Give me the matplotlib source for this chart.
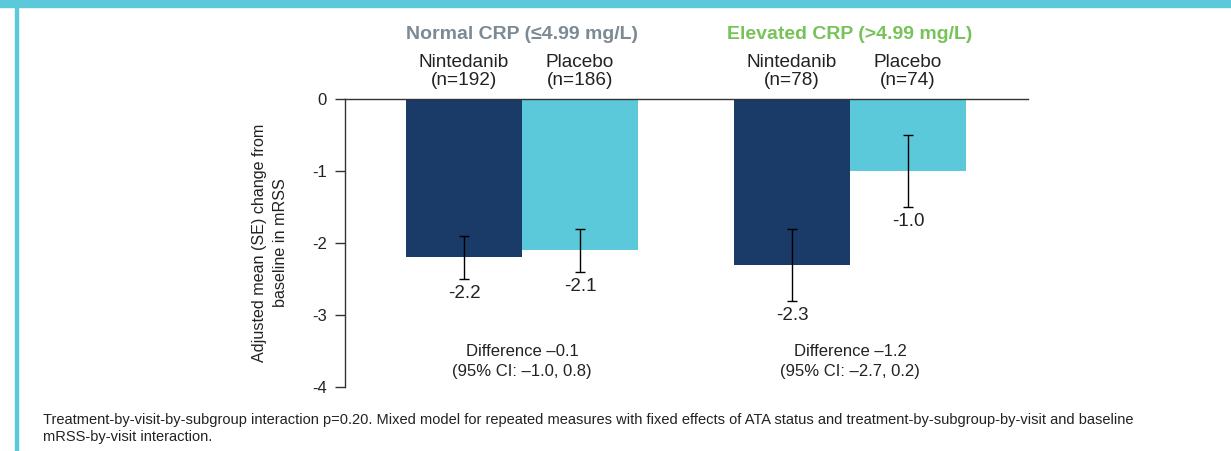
import matplotlib
matplotlib.use("Agg")
import matplotlib.pyplot as plt
from matplotlib.patches import Rectangle

plt.rcParams['font.family'] = ['Liberation Sans', 'DejaVu Sans']

# ---- data ----
groups = ["Normal CRP (\u22644.99 mg/L)", "Elevated CRP (>4.99 mg/L)"]
treatments = ["Nintedanib", "Placebo"]
n_values = [[192, 186], [78, 74]]
means = [[-2.2, -2.1], [-2.3, -1.0]]
se = [[0.3, 0.3], [0.5, 0.5]]
differences = ["Difference \u20130.1\n(95% CI: \u20131.0, 0.8)",
               "Difference \u20131.2\n(95% CI: \u20132.7, 0.2)"]
yticks = [0, -1, -2, -3, -4]
ylabel = "Adjusted mean (SE) change from\nbaseline in mRSS"
footnote = ("Treatment-by-visit-by-subgroup interaction p=0.20. Mixed model for repeated measures with fixed effects "
            "of ATA status and treatment-by-subgroup-by-visit and baseline\nmRSS-by-visit interaction.")

# ---- styles ----
bar_colors = ["#1a3a68", "#5bc9da"]
header_colors = ["#7b8a94", "#78c25a"]
text_color = "#222222"

W, H = 1231, 451
fig = plt.figure(figsize=(W / 100, H / 100), dpi=100)

# frame decorations
fig.patches.append(Rectangle((0, 1 - 7 / H), 1, 7 / H, transform=fig.transFigure,
                             color="#5bc9da", zorder=0))
fig.patches.append(Rectangle((15 / W, 0), 2.5 / W, 1, transform=fig.transFigure,
                             color="#5bc9da", zorder=0))

ax_left, ax_right, ax_top, ax_bot = 345, 1028, 99, 387
ax = fig.add_axes([ax_left / W, 1 - ax_bot / H, (ax_right - ax_left) / W, (ax_bot - ax_top) / H])

bar_w = 1.0
group_centers = [0.0, 328 / 116]
for gi, gc in enumerate(group_centers):
    for ti in range(2):
        x = gc + (ti - 0.5) * bar_w
        m = means[gi][ti]
        s = se[gi][ti]
        ax.bar(x, m, width=bar_w, color=bar_colors[ti], zorder=1)
        ax.errorbar(x, m, yerr=s, fmt='none', ecolor='black', elinewidth=1.0,
                    capsize=3.3, capthick=1.0, zorder=3)
        ax.annotate(f"{m:.1f}", xy=(x, m - s), xytext=(0, -10.5), textcoords='offset points',
                    ha='center', va='center', fontsize=13.5, color=text_color)
        # column headers
        ax.annotate(f"{treatments[ti]}\n(n={n_values[gi][ti]})", xy=(x, 0), xycoords='data',
                    xytext=(0, 20), textcoords='offset points', ha='center', va='center',
                    fontsize=13.7, color=text_color, linespacing=1.1, annotation_clip=False)
    ax.annotate(groups[gi], xy=(gc, 0), xytext=(0, 46.5), textcoords='offset points',
                ha='center', va='center', fontsize=14, fontweight='bold',
                color=header_colors[gi], annotation_clip=False)
    ax.text(gc, -3.646, differences[gi], ha='center', va='center', fontsize=12,
            color=text_color, linespacing=1.47)

ax.set_xlim(-522 / 116 + 345 / 116, (1028 - 522) / 116)
ax.set_ylim(-4, 0)
ax.set_yticks(yticks)
ax.set_yticklabels([str(t) for t in yticks], fontsize=12, color=text_color)
ax.set_xticks([])
for side in ["right", "bottom"]:
    ax.spines[side].set_visible(False)
for side in ["left", "top"]:
    ax.spines[side].set_color("#333333")
    ax.spines[side].set_linewidth(1.0)
ax.spines["top"].set_zorder(4)
ax.tick_params(axis='y', direction='out', length=7, width=1.0, color="#333333", pad=6)
ax.set_ylabel(ylabel, fontsize=11.6, color=text_color, linespacing=1.5, labelpad=17)

fig.text(43 / W, 1 - 428.5 / H, footnote, fontsize=10.5, color=text_color, ha='left', va='center',
         linespacing=1.35)

fig.savefig("out.png", dpi=100)
